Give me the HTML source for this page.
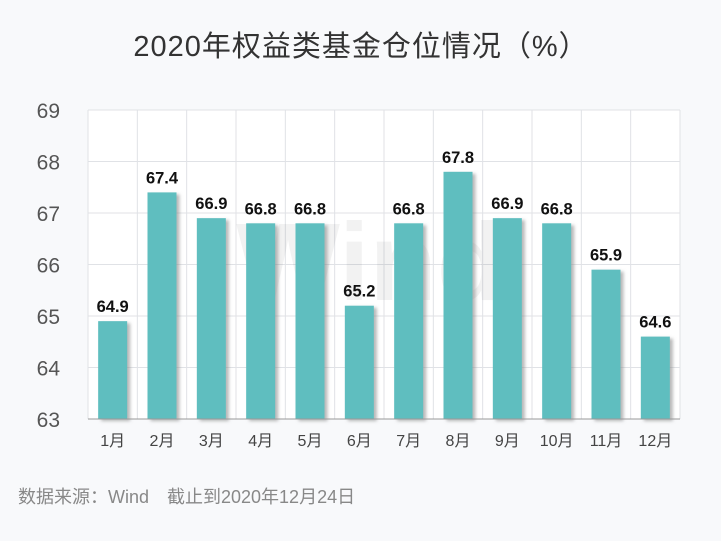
<!DOCTYPE html>
<html><head><meta charset="utf-8"><style>
body{margin:0;background:#f8f9fb;}
svg{display:block;font-family:"Liberation Sans","Noto Sans CJK SC",sans-serif;}
</style></head><body>
<svg id="c" width="721" height="541">
<defs><filter id="sh" x="-20%" y="-5%" width="150%" height="120%"><feDropShadow dx="3" dy="2" stdDeviation="1.5" flood-color="#888" flood-opacity="0.6"/></filter></defs>
<text x="361" y="56" text-anchor="middle" font-size="29" fill="#333" letter-spacing="1">2020年权益类基金仓位情况（%）</text>
<text x="18" y="503" font-size="18" fill="#888">数据来源：Wind　截止到2020年12月24日</text>
</svg>
<script>
const categories=["1月","2月","3月","4月","5月","6月","7月","8月","9月","10月","11月","12月"];
const values=[64.9,67.4,66.9,66.8,66.8,65.2,66.8,67.8,66.9,66.8,65.9,64.6];
const yTicks=[63,64,65,66,67,68,69];
const svg=document.getElementById('c');const NS='http://www.w3.org/2000/svg';
const L=88,R=680,T=110,B=419,ymin=63,ymax=69;
const y=v=>B-(v-ymin)/(ymax-ymin)*(B-T);
const bw=(R-L)/categories.length;const x=i=>L+i*bw;
function mk(t,a,p){const e=document.createElementNS(NS,t);for(const k in a)e.setAttribute(k,a[k]);(p||svg).appendChild(e);return e;}
const bg=mk('rect',{x:L,y:T,width:R-L,height:B-T,fill:'#fff'});


yTicks.forEach(t=>{const g=mk('line',{x1:L,x2:R,y1:y(t),y2:y(t),stroke:'#e0e2e6'});


const tx=mk('text',{x:60,y:y(t)+8,'text-anchor':'end','font-size':21,fill:'#555'});tx.textContent=t;

});
for(let i=0;i<=categories.length;i++){const g=mk('line',{x1:x(i),x2:x(i),y1:T,y2:B,stroke:'#e0e2e6'});

}
const wm=mk('text',{x:370,y:300,'text-anchor':'middle','font-size':110,'font-weight':'bold',fill:'#000','fill-opacity':0.05});wm.textContent='Wind';


categories.forEach((c,i)=>{const cx=x(i)+bw/2,v=values[i];
const r=mk('rect',{x:cx-14.5,y:y(v),width:29,height:B-y(v),fill:'#5fbebf',filter:'url(#sh)'});


const lb=mk('text',{x:cx,y:y(v)-9,'text-anchor':'middle','font-size':16.5,'font-weight':'bold',fill:'#111'});lb.textContent=v.toFixed(1);


const xl=mk('text',{x:cx,y:446,'text-anchor':'middle','font-size':16,fill:'#444'});xl.textContent=c;

});
const ax=mk('line',{x1:L,x2:R,y1:B,y2:B,stroke:'#999'});


</script>
</body></html>
